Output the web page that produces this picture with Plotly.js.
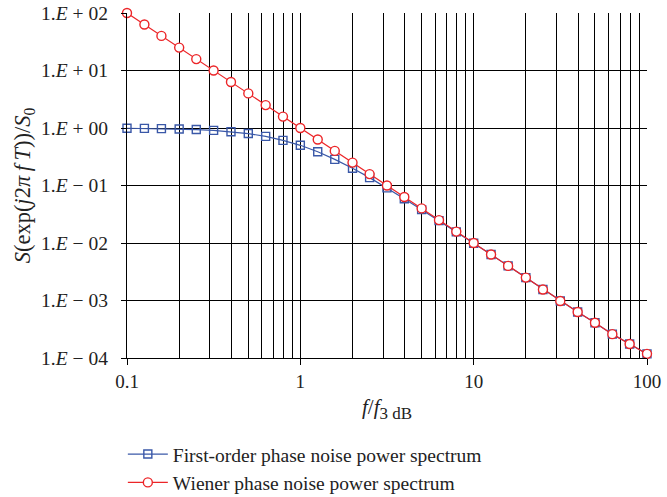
<!DOCTYPE html>
<html>
<head>
<meta charset="utf-8">
<script src="https://cdn.plot.ly/plotly-3.0.1.min.js"></script>
<style>html,body{margin:0;padding:0;background:#fff;}#chart{width:667px;height:497px;}</style>
</head>
<body>
<div id="chart"></div>
<script>
// normalized frequency f/f3dB
const freq = [0.1, 0.126, 0.158, 0.2, 0.251, 0.316, 0.398, 0.501, 0.631, 0.794,
  1, 1.26, 1.58, 2, 2.51, 3.16, 3.98, 5.01, 6.31, 7.94,
  10, 12.6, 15.8, 20, 25.1, 31.6, 39.8, 50.1, 63.1, 79.4, 100];
// First-order phase noise power spectrum
const firstOrder = [0.99, 0.984, 0.976, 0.96, 0.94, 0.91, 0.86, 0.80, 0.715, 0.61,
  0.50, 0.387, 0.285, 0.20, 0.137, 0.091, 0.059, 0.038, 0.0245, 0.0156,
  0.0099, 0.0063, 0.0040, 0.0025, 0.00155, 0.00098, 0.00063, 0.00041, 0.00026, 0.000175, 0.000118];
// Wiener phase noise power spectrum
const wiener = [100, 63, 40, 25, 15.8, 10, 6.3, 4.0, 2.5, 1.58,
  1.0, 0.63, 0.40, 0.25, 0.158, 0.10, 0.063, 0.040, 0.025, 0.0158,
  0.010, 0.0063, 0.0040, 0.0025, 0.00155, 0.00098, 0.00063, 0.00041, 0.00026, 0.000175, 0.000118];
const seriesNames = ['First-order phase noise power spectrum', 'Wiener phase noise power spectrum'];
const xTickVals = [0.1, 1, 10, 100];
const xTickText = ['0.1', '1', '10', '100'];
const xMinorVals = [0.2,0.3,0.4,0.5,0.6,0.7,0.8,0.9,2,3,4,5,6,7,8,9,20,30,40,50,60,70,80,90];
const yTickVals = [1e-4, 1e-3, 1e-2, 1e-1, 1, 10, 100];
const yTickText = ['1.<i>E</i> − 04', '1.<i>E</i> − 03', '1.<i>E</i> − 02', '1.<i>E</i> − 01',
  '1.<i>E</i> + 00', '1.<i>E</i> + 01', '1.<i>E</i> + 02'];

const serif = 'Liberation Serif, DejaVu Serif, serif';
const blue = '#3a58a8';
const red = '#ec2528';
const txt = '#222';

const traces = [
  {x: freq, y: firstOrder, name: seriesNames[0], type: 'scatter', mode: 'lines+markers',
   cliponaxis: false,
   line: {color: blue, width: 1.2},
   marker: {symbol: 'square-open', size: 8, color: blue, line: {width: 1.4, color: blue}}},
  {x: freq, y: wiener, name: seriesNames[1], type: 'scatter', mode: 'lines+markers',
   cliponaxis: false,
   line: {color: red, width: 1.2},
   marker: {symbol: 'circle', size: 9, color: '#fff', line: {width: 1.4, color: red}}}
];

const layout = {
  width: 667, height: 497,
  margin: {l: 127, r: 20, t: 13, b: 139},
  paper_bgcolor: '#fff', plot_bgcolor: '#fff',
  font: {family: serif, size: 19, color: txt},
  showlegend: true,
  legend: {xref: 'paper', yref: 'container', x: -0.008, xanchor: 'left', y: 0.125, yanchor: 'top', orientation: 'v',
    itemwidth: 40, font: {family: serif, size: 19.5, color: txt}, bgcolor: 'rgba(0,0,0,0)', tracegroupgap: 0},
  xaxis: {type: 'log', range: [-1, 2], tickmode: 'array', tickvals: xTickVals, ticktext: xTickText,
    showgrid: true, gridcolor: '#000', gridwidth: 1,
    minor: {tickmode: 'array', tickvals: xMinorVals, showgrid: true, gridcolor: '#000', gridwidth: 1, ticklen: 0},
    showline: true, linecolor: '#000', linewidth: 1.2, ticks: 'outside', ticklen: 6, tickcolor: '#000',
    ticklabelstandoff: 0,
    zeroline: false, tickfont: {family: serif, size: 19, color: txt},
    title: {text: '<i>f</i>/<i>f</i><sub><span style="font-size:17px">3 dB</span></sub>', font: {family: serif, size: 21, color: txt}, standoff: 8}},
  yaxis: {type: 'log', range: [-4, 2], tickmode: 'array', tickvals: yTickVals, ticktext: yTickText,
    showgrid: true, gridcolor: '#000', gridwidth: 1,
    showline: true, linecolor: '#000', linewidth: 1.2, ticks: 'outside', ticklen: 5, tickcolor: '#000',
    ticklabelstandoff: 9,
    zeroline: false, tickfont: {family: serif, size: 19.5, color: txt},
    title: {text: '<i>S</i>(exp(<i>j</i>2<i>π</i>\u2009<i>f</i>\u2009<i>T</i>))/<i>S</i><sub>0</sub>', font: {family: serif, size: 22.5, color: txt}, standoff: 4}}
};

Plotly.newPlot('chart', traces, layout, {displayModeBar: false, staticPlot: true});
</script>
</body>
</html>
